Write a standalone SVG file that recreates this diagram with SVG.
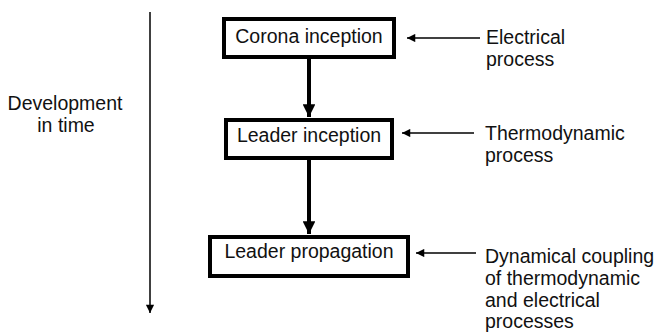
<svg xmlns="http://www.w3.org/2000/svg" width="658" height="334" viewBox="0 0 658 334">
<defs>
<style>
text{font-family:"Liberation Sans",Arial,sans-serif;font-size:19.5px;fill:#111}
.box{fill:#fff;stroke:#000;stroke-width:4}
.thick{stroke:#000;stroke-width:4;fill:none}
.thin{stroke:#000;stroke-width:1.5;fill:none}
</style>
<marker id="bigHead" viewBox="0 0 10 10" refX="10" refY="5" markerWidth="3.2" markerHeight="3.2" markerUnits="strokeWidth" orient="auto"><path d="M0,0 L10,5 L0,10 Z" fill="#000"/></marker>
<marker id="smallHead" viewBox="0 0 10 10" refX="10" refY="5" markerWidth="6" markerHeight="5.5" markerUnits="strokeWidth" orient="auto"><path d="M0,0 L10,5 L0,10 Z" fill="#000"/></marker>
</defs>
<g id="connectors">
<line class="thin" x1="150" y1="12" x2="150" y2="313" marker-end="url(#smallHead)"/>
<line class="thick" x1="309" y1="59" x2="309" y2="117" marker-end="url(#bigHead)"/>
<line class="thick" x1="309" y1="160" x2="309" y2="234" marker-end="url(#bigHead)"/>
<line class="thin" x1="480" y1="38" x2="407" y2="38" marker-end="url(#smallHead)"/>
<line class="thin" x1="474" y1="133" x2="402" y2="133" marker-end="url(#smallHead)"/>
<line class="thin" x1="476" y1="253" x2="416" y2="253" marker-end="url(#smallHead)"/>
</g>
<g id="time-label">
<text x="65" y="110" text-anchor="middle">Development</text>
<text x="66" y="132" text-anchor="middle">in time</text>
</g>
<g id="corona-inception">
<rect class="box" x="224" y="19" width="170" height="38"/>
<text x="309" y="43" text-anchor="middle">Corona inception</text>
</g>
<g id="leader-inception">
<rect class="box" x="226" y="120" width="166" height="38"/>
<text x="309" y="142" text-anchor="middle">Leader inception</text>
</g>
<g id="leader-propagation">
<rect class="box" x="210" y="237" width="198" height="39"/>
<text x="309" y="258" text-anchor="middle">Leader propagation</text>
</g>
<g id="electrical-process">
<text x="486" y="44">Electrical</text>
<text x="486" y="66">process</text>
</g>
<g id="thermodynamic-process">
<text x="485" y="140">Thermodynamic</text>
<text x="485" y="162">process</text>
</g>
<g id="dynamical-coupling">
<text x="485" y="263">Dynamical coupling</text>
<text x="485" y="285">of thermodynamic</text>
<text x="485" y="307">and electrical</text>
<text x="485" y="328">processes</text>
</g>
</svg>
